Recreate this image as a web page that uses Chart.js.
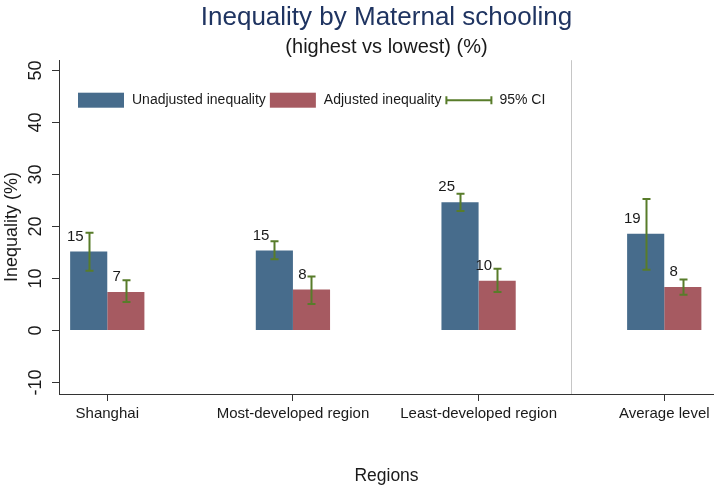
<!DOCTYPE html>
<html>
<head>
<meta charset="utf-8">
<script src="https://cdn.jsdelivr.net/npm/chart.js@4/dist/chart.umd.min.js"></script>
<style>
html,body{margin:0;padding:0;background:#fff;}
</style>
</head>
<body>
<canvas id="graphCanvas" width="714" height="487"></canvas>
<script>
var categories = ["Shanghai", "Most-developed region", "Least-developed region", "Average level"];
var unadjusted = [15.2, 15.4, 24.7, 18.6];
var unadjustedLow = [11.5, 13.7, 23.0, 11.7];
var unadjustedHigh = [18.8, 17.2, 26.3, 25.3];
var adjusted = [7.4, 7.9, 9.6, 8.4];
var adjustedLow = [5.5, 5.1, 7.4, 6.9];
var adjustedHigh = [9.7, 10.4, 11.9, 9.8];
var yTicks = [-10, 0, 10, 20, 30, 40, 50];

var font = "'Liberation Sans', Arial, sans-serif";
var blue = "rgb(71,108,140)";
var red = "rgb(166,90,97)";
var green = "rgb(88,124,42)";

function points(vals){
	var out = [];
	for (var i = 0; i < vals.length; i++){
		out.push({x: i, y: vals[i]});
	}
	return out;
}

// vertical divider between the regions and the average
var dividerPlugin = {
	id: "divider",
	beforeDatasetsDraw: function(chart){
		var ctx = chart.ctx, a = chart.chartArea;
		var x = chart.scales.x.getPixelForValue(2.5);
		ctx.save();
		ctx.strokeStyle = "#c6c6c6";
		ctx.lineWidth = 1;
		ctx.beginPath();
		ctx.moveTo(Math.round(x) + 0.5, a.top);
		ctx.lineTo(Math.round(x) + 0.5, a.bottom);
		ctx.stroke();
		ctx.restore();
	}
};

// confidence intervals and value labels
var ciPlugin = {
	id: "ci",
	afterDatasetsDraw: function(chart){
		var ctx = chart.ctx, y = chart.scales.y;
		var lows = [unadjustedLow, adjustedLow];
		var highs = [unadjustedHigh, adjustedHigh];
		var vals = [unadjusted, adjusted];
		ctx.save();
		for (var d = 0; d < 2; d++){
			var meta = chart.getDatasetMeta(d);
			meta.data.forEach(function(bar, i){
				var x = Math.round(bar.x) + 0.5;
				var y1 = y.getPixelForValue(lows[d][i]);
				var y2 = y.getPixelForValue(highs[d][i]);
				ctx.strokeStyle = green;
				ctx.lineWidth = 2;
				ctx.beginPath();
				ctx.moveTo(x, y1); ctx.lineTo(x, y2);
				ctx.moveTo(x - 4, y1); ctx.lineTo(x + 4, y1);
				ctx.moveTo(x - 4, y2); ctx.lineTo(x + 4, y2);
				ctx.stroke();
				ctx.fillStyle = "#1a1a1a";
				ctx.font = "15px " + font;
				ctx.textAlign = "right";
				ctx.textBaseline = "middle";
				ctx.fillText(String(Math.round(vals[d][i])), bar.x - 5, bar.y - 15);
			});
		}
		ctx.restore();
	}
};

// legend drawn inside the plot region
var legendPlugin = {
	id: "innerLegend",
	afterDraw: function(chart){
		var ctx = chart.ctx, a = chart.chartArea;
		var x = a.left + 19, yc = a.top + 40;
		ctx.save();
		ctx.font = "14px " + font;
		ctx.textBaseline = "middle";
		ctx.textAlign = "left";
		chart.data.datasets.forEach(function(ds){
			ctx.fillStyle = ds.backgroundColor;
			ctx.fillRect(x, yc - 7.5, 46, 15);
			x += 46 + 8;
			ctx.fillStyle = "#1a1a1a";
			ctx.fillText(ds.label, x, yc);
			x += ctx.measureText(ds.label).width + 4;
		});
		ctx.strokeStyle = green;
		ctx.lineWidth = 2;
		ctx.beginPath();
		ctx.moveTo(x + 1, yc); ctx.lineTo(x + 46, yc);
		ctx.moveTo(x + 1, yc - 4); ctx.lineTo(x + 1, yc + 4);
		ctx.moveTo(x + 46, yc - 4); ctx.lineTo(x + 46, yc + 4);
		ctx.stroke();
		ctx.fillStyle = "#1a1a1a";
		ctx.fillText("95% CI", x + 54, yc);
		ctx.restore();
	}
};

var ctx = document.getElementById("graphCanvas");
var chart = new Chart(ctx, {
	type: "bar",
	data: {
		datasets: [
			{label: "Unadjusted inequality", data: points(unadjusted), backgroundColor: blue},
			{label: "Adjusted inequality", data: points(adjusted), backgroundColor: red}
		]
	},
	options: {
		responsive: false,
		animation: false,
		categoryPercentage: 0.4,
		barPercentage: 1.0,
		layout: {padding: 0},
		plugins: {
			legend: {display: false},
			tooltip: {enabled: false},
			title: {
				display: true,
				text: "Inequality by Maternal schooling",
				fullSize: false,
				color: "#1f3461",
				font: {family: font, size: 26, weight: "normal"},
				padding: {top: 2, bottom: 0}
			},
			subtitle: {
				display: true,
				text: "(highest vs lowest) (%)",
				fullSize: false,
				color: "#1a1a1a",
				font: {family: font, size: 20, weight: "normal"},
				padding: {top: 2, bottom: 1}
			}
		},
		scales: {
			x: {
				type: "linear",
				offset: false,
				min: -0.26,
				max: 3.268,
				afterBuildTicks: function(scale){
					scale.ticks = categories.map(function(c, i){ return {value: i}; });
				},
				afterFit: function(scale){ scale.height = 93; },
				grid: {display: true, offset: false, drawOnChartArea: false, drawTicks: true, tickLength: 7, color: "#333"},
				border: {color: "#333", width: 1},
				ticks: {
					autoSkip: false,
					maxRotation: 0,
					padding: 4,
					color: "#1a1a1a",
					font: {family: font, size: 15},
					callback: function(v){ return categories[v]; }
				},
				title: {
					display: true,
					text: "Regions",
					color: "#1a1a1a",
					font: {family: font, size: 17.5},
					padding: {top: 0, bottom: 0}
				}
			},
			y: {
				min: -12.2,
				max: 52,
				afterBuildTicks: function(scale){
					scale.ticks = yTicks.map(function(v){ return {value: v}; });
				},
				afterFit: function(scale){ scale.width = 59; },
				grid: {display: true, drawOnChartArea: false, drawTicks: true, tickLength: 7, color: "#333"},
				border: {color: "#333", width: 1},
				ticks: {
					minRotation: 90,
					maxRotation: 90,
					crossAlign: "center",
					padding: 3,
					color: "#1a1a1a",
					font: {family: font, size: 18},
					callback: function(v){ return String(v); }
				},
				title: {
					display: true,
					text: "Inequality (%)",
					color: "#1a1a1a",
					font: {family: font, size: 18},
					padding: {top: 1, bottom: 0}
				}
			}
		}
	},
	plugins: [dividerPlugin, ciPlugin, legendPlugin]
});
</script>
</body>
</html>
